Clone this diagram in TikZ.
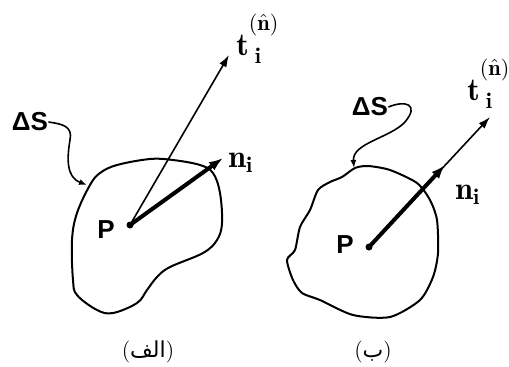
\documentclass[tikz,border=0pt]{standalone}
\usepackage{amsmath}
\usepackage{fontspec}
\setsansfont{Liberation Sans}
\newfontfamily\arabicfont[Script=Arabic]{DejaVu Sans}
\TeXXeTstate=1
\usetikzlibrary{arrows.meta, positioning}

\begin{document}
\begin{tikzpicture}[
    x=0.5pt, y=-0.5pt,
    outline/.style={line width=1pt, line join=round},
    ptlabel/.style={font=\sffamily\bfseries\fontsize{13}{15}\selectfont, inner sep=0pt},
    veclabel/.style={font=\fontsize{16}{18}\selectfont, inner sep=0pt, anchor=base west},
    caplabel/.style={font=\fontsize{11}{13}\selectfont, inner sep=0pt},
    pdot/.style={circle, fill, inner sep=0pt, minimum size=3.5pt},
    tarrow/.style={-{Latex[length=6pt, width=4pt]}, line width=0.8pt},
    narrow/.style={-{Latex[length=7pt, width=5pt]}, line width=2pt},
    pointer/.style={-{Latex[length=4pt, width=3pt]}, line width=0.8pt}
]
    \useasboundingbox (0,0) rectangle (509,366);

    % (a) left surface
    \draw[outline] plot[smooth cycle, tension=0.6] coordinates {(100,173) (117,165) (150,159) (173,160) (200,165) (213,173) (220,193) (222,223) (217,240) (203,253) (170,267) (157,277) (147,290) (137,303) (113,313) (97,310) (77,295) (73,280) (72,240) (77,213) (90,185)};
    \node[pdot] (pA) at (130,225) {};
    \node[ptlabel] (PlabA) at (106,230) {P};
    \node[ptlabel] (dsA) at (30,122) {ΔS};
    \coordinate (tipTA) at (229,55);
    \coordinate (tipNA) at (223,158);
    \coordinate (sA) at (87,185);
    \node[veclabel] (tlabA) at (236,55) {$\mathbf{t}_{\;\mathbf{i}}^{\raisebox{6pt}{$\scriptstyle(\hat{\mathbf{n}})$}}$};
    \node[veclabel] (nlabA) at (228,167) {$\mathbf{n}_{\mathbf{i}}$};

    \draw[tarrow] (pA.center) -- (tipTA);
    \draw[narrow] (pA.center) -- (tipNA);
    \draw[pointer] (dsA.east) .. controls (62,124) and (73,126) .. (70,140) .. controls (67,158) and (66,177) .. (sA);

    % (b) right surface
    \draw[outline] plot[smooth cycle, tension=0.45] coordinates {(368,166) (390,170) (417,183) (430,200) (437,220) (438,253) (433,277) (420,300) (390,317) (353,315) (320,300) (302,293) (293,280) (287,260) (295,250) (300,227) (310,210) (318,190) (330,182) (342,177) (355,168)};
    \node[pdot] (pB) at (369,247) {};
    \node[ptlabel] (PlabB) at (345,245) {P};
    \node[ptlabel] (dsB) at (370,107) {ΔS};
    \coordinate (tipTB) at (490,117);
    \coordinate (tipNB) at (445,165);
    \coordinate (sB) at (354,168);
    \node[veclabel] (tlabB) at (467,100) {$\mathbf{t}_{\;\mathbf{i}}^{\raisebox{6pt}{$\scriptstyle(\hat{\mathbf{n}})$}}$};
    \node[veclabel] (nlabB) at (455,199) {$\mathbf{n}_{\mathbf{i}}$};

    \draw[tarrow] (pB.center) -- (tipTB);
    \draw[narrow] (pB.center) -- (tipNB);
    \draw[pointer] (dsB.east) .. controls (405,100) and (420,104) .. (405,122) .. controls (390,138) and (352,143) .. (sB);

    % captions
    \node[caplabel] (capA) at (148,352) {(\beginR{\arabicfont الف}\endR)};
    \node[caplabel] (capB) at (373,352) {(\beginR{\arabicfont ب}\endR)};
\end{tikzpicture}
\end{document}
